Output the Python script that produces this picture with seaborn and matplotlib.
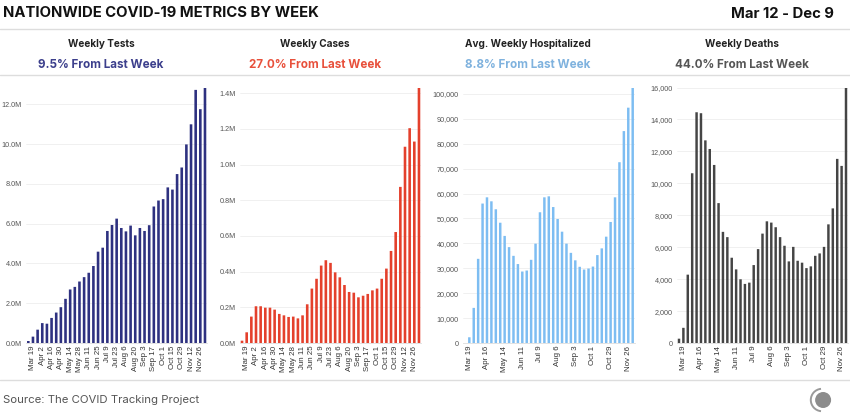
import matplotlib
matplotlib.use("Agg")
import matplotlib.pyplot as plt
import matplotlib.ticker as mticker
from matplotlib.patches import Circle, Arc
from matplotlib.lines import Line2D
import seaborn as sns
import pandas as pd

weeks = ["Mar 12", "Mar 19", "Mar 26", "Apr 2", "Apr 9", "Apr 16", "Apr 23", "Apr 30",
         "May 7", "May 14", "May 21", "May 28", "Jun 4", "Jun 11", "Jun 18", "Jun 25",
         "Jul 2", "Jul 9", "Jul 16", "Jul 23", "Jul 30", "Aug 6", "Aug 13", "Aug 20",
         "Aug 27", "Sep 3", "Sep 10", "Sep 17", "Sep 24", "Oct 1", "Oct 8", "Oct 15",
         "Oct 22", "Oct 29", "Nov 5", "Nov 12", "Nov 19", "Nov 26", "Dec 3"]

tests = [0.10, 0.32, 0.67, 1.00, 0.97, 1.26, 1.53, 1.80, 2.22, 2.69, 2.82, 3.09, 3.31,
         3.53, 3.87, 4.59, 4.79, 5.63, 5.93, 6.25, 5.78, 5.61, 5.90, 5.41, 5.78, 5.63,
         5.92, 6.86, 7.16, 7.23, 7.82, 7.71, 8.49, 8.82, 9.98, 10.99, 12.72, 11.75, 12.84]
tests = [v * 1e6 for v in tests]

cases = [0.013, 0.060, 0.148, 0.206, 0.206, 0.198, 0.198, 0.187, 0.163, 0.155, 0.146,
         0.148, 0.138, 0.155, 0.217, 0.305, 0.360, 0.434, 0.464, 0.449, 0.396, 0.368,
         0.325, 0.286, 0.282, 0.256, 0.265, 0.275, 0.295, 0.305, 0.360, 0.417, 0.516,
         0.622, 0.875, 1.100, 1.204, 1.129, 1.432]
cases = [v * 1e6 for v in cases]

hospitalized = [0, 2300, 14100, 33800, 56000, 58500, 56900, 53700, 48300, 43000, 38500,
                35000, 31700, 28700, 29100, 33400, 39900, 52500, 58500, 58900, 54600,
                49800, 44700, 39900, 36200, 33200, 30600, 29500, 29900, 30700, 35300,
                38000, 42700, 48600, 58500, 72600, 85100, 94500, 102600]

deaths = [270, 950, 4280, 10630, 14450, 14390, 12690, 12150, 11150, 8760, 6960, 6630,
          5340, 4610, 3990, 3700, 3780, 4880, 5880, 6850, 7620, 7540, 7250, 6630, 6090,
          5110, 6020, 5150, 5030, 4690, 4800, 5460, 5610, 6020, 7430, 8430, 11530, 11090,
          16000]

panel_titles = ["Weekly Tests", "Weekly Cases", "Avg. Weekly Hospitalized", "Weekly Deaths"]
panel_changes = ["9.5% From Last Week", "27.0% From Last Week", "8.8% From Last Week",
                 "44.0% From Last Week"]
title = "NATIONWIDE COVID-19 METRICS BY WEEK"
date_range = "Mar 12 - Dec 9"
source = "Source: The COVID Tracking Project"

series = [tests, cases, hospitalized, deaths]
bar_colors = ["#2e3180", "#e4402c", "#7dbdf2", "#454545"]
text_colors = ["#3c3f8c", "#e8503b", "#7fb2de", "#555555"]
yticks = [
    [0, 2e6, 4e6, 6e6, 8e6, 10e6, 12e6],
    [0, 0.2e6, 0.4e6, 0.6e6, 0.8e6, 1.0e6, 1.2e6, 1.4e6],
    list(range(0, 100001, 10000)),
    list(range(0, 16001, 2000)),
]
fmts = [
    lambda v, p: f"{v/1e6:.1f}M",
    lambda v, p: f"{v/1e6:.1f}M",
    lambda v, p: f"{int(v):,}",
    lambda v, p: f"{int(v):,}",
]
label_step = [2, 2, 4, 4]

W, H = 850, 420
sns.set_theme(style="white")
plt.rcParams["font.family"] = ["Inter", "DejaVu Sans"]

fig = plt.figure(figsize=(W / 100, H / 100), dpi=100)
fig.patch.set_facecolor("white")

ax_px = [(26.0, 207.3), (239.7, 421.3), (462.7, 634.9), (676.8, 848.2)]
ax_top, ax_bot = 87.5, 343.0
centers = [101, 315, 528, 742]
tick_font = ["Liberation Sans", "DejaVu Sans"]

for i in range(4):
    l, r = ax_px[i]
    ax = fig.add_axes([l / W, (H - ax_bot) / H, (r - l) / W, (ax_bot - ax_top) / H])
    df = pd.DataFrame({"week": weeks, "value": series[i]})
    sns.barplot(data=df, x="week", y="value", order=weeks, color=bar_colors[i],
                width=0.56, saturation=1, linewidth=0, ax=ax)
    for p in ax.patches:
        p.set_snap(False)
        p.set_antialiased(True)
    ax.set_xlim(-0.5, len(weeks) - 0.5)
    ax.set_ylim(0, max(series[i]))
    ax.set_yticks(yticks[i])
    ax.yaxis.set_major_formatter(mticker.FuncFormatter(fmts[i]))
    idx = list(range(1, len(weeks), label_step[i]))
    ax.set_xticks(idx)
    ax.set_xticklabels([weeks[k] for k in idx], rotation=90, fontsize=5.7,
                       color="#333333", family=tick_font)
    for t in ax.get_yticklabels():
        t.set_fontsize(5.2)
        t.set_color("#555555")
        t.set_family(tick_font)
    ax.tick_params(axis="x", length=0, pad=2)
    ax.tick_params(axis="y", length=0, pad=3)
    ax.set_xlabel("")
    ax.set_ylabel("")
    ax.grid(axis="y", color="#eeeeee", linewidth=0.6)
    ax.set_axisbelow(True)
    for s in ["top", "right", "left"]:
        ax.spines[s].set_visible(False)
    ax.spines["bottom"].set_color("#dddddd")
    ax.spines["bottom"].set_linewidth(0.6)
    ax.set_facecolor("white")

    fig.text(centers[i] / W, 1 - 44 / H, panel_titles[i], ha="center", va="center",
             fontsize=7.2, fontweight="bold", color="#222222")
    fig.text(centers[i] / W, 1 - 65 / H, panel_changes[i], ha="center", va="center",
             fontsize=8.4, fontweight="bold", color=text_colors[i])

fig.text(3 / W, 1 - 13 / H, title, ha="left", va="center", fontsize=10.7,
         fontweight="bold", color="#111111")
fig.text(834 / W, 1 - 14 / H, date_range, ha="right", va="center", fontsize=10.7,
         fontweight="bold", color="#111111")
fig.text(3 / W, 1 - 400 / H, source, ha="left", va="center", fontsize=8.2,
         color="#555555")

for yy in [29, 75, 380]:
    fig.add_artist(Line2D([0, 1], [1 - yy / H, 1 - yy / H], transform=fig.transFigure,
                          color="#dddddd", linewidth=1.0))

ax_logo = fig.add_axes([808 / W, (H - 414) / H, 28 / W, 28 / H])
ax_logo.set_xlim(-1, 1)
ax_logo.set_ylim(-1, 1)
ax_logo.set_aspect("equal")
ax_logo.axis("off")
ax_logo.add_patch(Circle((0.08, 0), 0.52, color="#8c8c8c"))
ax_logo.add_patch(Arc((0, 0), 1.6, 1.6, theta1=95, theta2=265, color="#9a9a9a", linewidth=1.4))

fig.savefig("out.png", dpi=100, facecolor="white")
